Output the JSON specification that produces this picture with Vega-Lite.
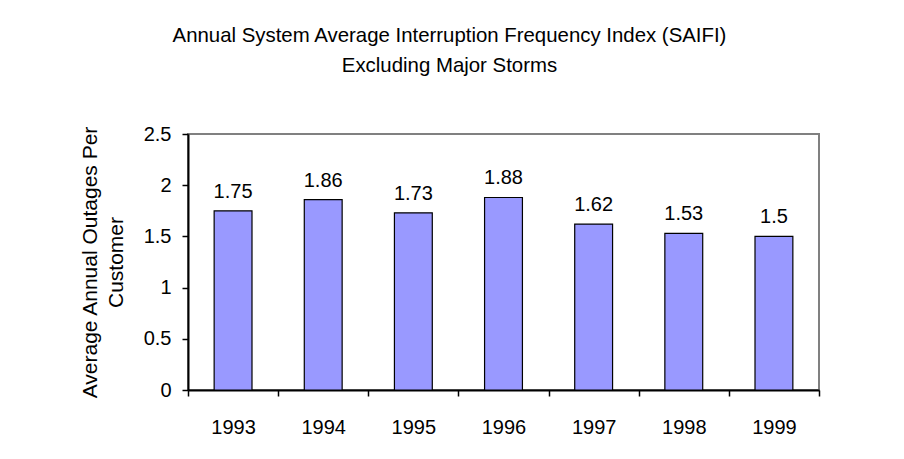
{
  "$schema": "https://vega.github.io/schema/vega-lite/v6.json",
  "width": 631,
  "height": 256,
  "autosize": {"type": "none"},
  "padding": {"left": 188, "top": 134, "right": 85, "bottom": 69},
  "background": "white",
  "title": {
    "text": ["Annual System Average Interruption Frequency Index (SAIFI)", "Excluding Major Storms"],
    "font": "Liberation Sans",
    "fontSize": 20.4,
    "fontWeight": "normal",
    "color": "black",
    "anchor": "middle",
    "frame": "bounds",
    "lineHeight": 30,
    "offset": 48
  },
  "data": {
    "values": [
      {"year": "1993", "saifi": 1.75},
      {"year": "1994", "saifi": 1.86},
      {"year": "1995", "saifi": 1.73},
      {"year": "1996", "saifi": 1.88},
      {"year": "1997", "saifi": 1.62},
      {"year": "1998", "saifi": 1.53},
      {"year": "1999", "saifi": 1.5}
    ]
  },
  "encoding": {
    "x": {
      "field": "year",
      "type": "ordinal",
      "scale": {"paddingInner": 0, "paddingOuter": 0},
      "axis": {
        "title": null,
        "labelAngle": 0,
        "tickBand": "extent",
        "tickSize": 6,
        "tickColor": "black",
        "tickWidth": 1.5,
        "domainColor": "black",
        "domainWidth": 2,
        "labelFont": "Liberation Sans",
        "labelFontSize": 20,
        "labelColor": "black",
        "labelPadding": 21
      }
    },
    "y": {
      "field": "saifi",
      "type": "quantitative",
      "scale": {"domain": [0, 2.5], "nice": false},
      "axis": {
        "title": ["Average Annual Outages Per", "Customer"],
        "titleFont": "Liberation Sans",
        "titleFontSize": 21,
        "titleFontWeight": "normal",
        "titleColor": "black",
        "titleLineHeight": 26,
        "titlePadding": 17,
        "values": [0, 0.5, 1, 1.5, 2, 2.5],
        "format": "~g",
        "grid": false,
        "tickSize": 6,
        "tickColor": "black",
        "tickWidth": 1.5,
        "domainColor": "black",
        "domainWidth": 2,
        "labelFont": "Liberation Sans",
        "labelFontSize": 20,
        "labelColor": "black",
        "labelPadding": 11
      }
    }
  },
  "layer": [
    {
      "mark": {"type": "bar", "width": {"band": 0.42}, "fill": "#9999FF", "stroke": "black", "strokeWidth": 1.2}
    },
    {
      "mark": {"type": "text", "baseline": "bottom", "dy": -9, "font": "Liberation Sans", "fontSize": 20, "color": "black"},
      "encoding": {"text": {"field": "saifi", "type": "quantitative", "format": "~g"}}
    }
  ],
  "config": {
    "view": {"stroke": "#808080", "strokeWidth": 2}
  }
}
